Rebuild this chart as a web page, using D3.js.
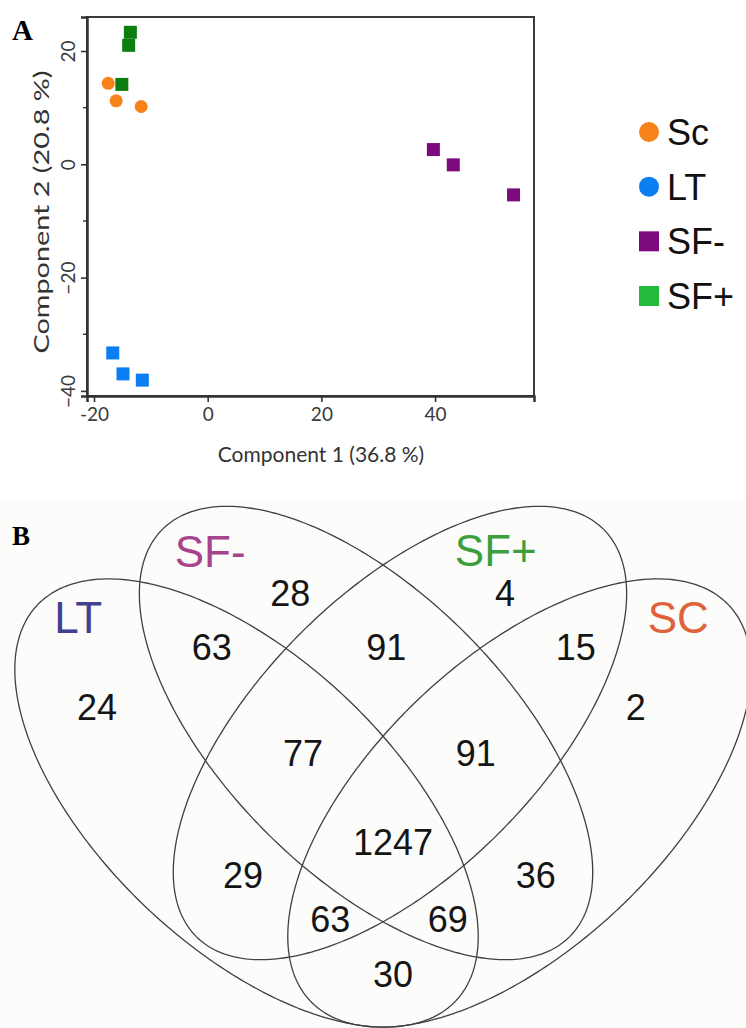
<!DOCTYPE html>
<html><head><meta charset="utf-8">
<script src="https://cdn.jsdelivr.net/npm/d3@7"></script>
<style>body{margin:0;background:#fff;} svg{display:block;}</style>
</head><body>
<svg id="c" width="746" height="1028"></svg>
<script>
// ---------- Panel A data (PCA scores) ----------
const pcaGroups = ["Sc", "LT", "SF-", "SF+"];
const scX  = [-17.5, -16.1, -11.7];
const scY  = [14.3, 11.2, 10.2];
const ltX  = [-16.7, -14.9, -11.5];
const ltY  = [-33.3, -37.0, -38.1];
const sfmX = [39.7, 43.2, 53.8];
const sfmY = [2.6, -0.1, -5.4];
const sfpX = [-13.6, -13.9, -15.1];
const sfpY = [23.3, 21.0, 14.1];
const xTicks = [-20, 0, 20, 40];
const yTicks = [-40, -20, 0, 20];
const yMinorTicks = [-30, -10, 10];
const xTitle = "Component 1 (36.8 %)";
const yTitle = "Component 2 (20.8 %)";

// ---------- Panel B data (Venn counts) ----------
const vennSets = ["LT", "SF-", "SF+", "SC"];
const vennRegions = ["LT", "SF-", "SF+", "SC", "LT&SF-", "SF-&SF+", "SF+&SC",
  "LT&SF-&SF+", "SF-&SF+&SC", "all", "LT&SF+", "SF-&SC", "LT&SF+&SC", "LT&SF-&SC", "LT&SC"];
const vennCounts = [24, 28, 4, 2, 63, 91, 15, 77, 91, 1247, 29, 36, 63, 69, 30];

// ---------- styles / layout ----------
const colors = {"Sc": "#f8821a", "LT": "#0b7ef2", "SF-": "#7c0a7e", "SF+": "#0c7e10"};
const legendColors = {"Sc": "#f8821a", "LT": "#0b7ef2", "SF-": "#7c0a7e", "SF+": "#22bb3a"};
const shapes = {"Sc": "circle", "LT": "square", "SF-": "square", "SF+": "square"};
const legendShapes = {"Sc": "circle", "LT": "circle", "SF-": "square", "SF+": "square"};
const setColors = {"LT": "#40408f", "SF-": "#a8448e", "SF+": "#3d9e3d", "SC": "#e0623a"};
// ellipse geometry in unit coordinates (centre, semi-axes, rotation deg, y up)
const vennGeom = [
  {cx: 0.3294, cy: 0.470, a: 0.360, b: 0.181, rot: 136.6},
  {cx: 0.4788, cy: 0.5575, a: 0.360, b: 0.176, rot: 135},
  {cx: 0.5212, cy: 0.5575, a: 0.360, b: 0.176, rot: 45},
  {cx: 0.6706, cy: 0.470, a: 0.360, b: 0.181, rot: 43.4}
];
const vennSetLabelPos = [[0.119, 0.7025], [0.284, 0.784], [0.641, 0.786], [0.869, 0.7025]];
const vennCountPos = [[0.1425, 0.590], [0.384, 0.7325], [0.6525, 0.7325], [0.816, 0.590],
  [0.286, 0.665], [0.504, 0.665], [0.741, 0.665], [0.400, 0.5325], [0.616, 0.5325],
  [0.5125, 0.421], [0.325, 0.379], [0.691, 0.379], [0.434, 0.325], [0.581, 0.325], [0.5125, 0.256]];

const svg = d3.select("#c");
svg.append("rect").attr("width", 746).attr("height", 1028).attr("fill", "#ffffff");
svg.append("rect").attr("x", 0).attr("y", 500).attr("width", 746).attr("height", 528).attr("fill", "#fcfcfa");

// ================= Panel A =================
const x = d3.scaleLinear().domain([-21.23, 57.4]).range([87, 534]);
const y = d3.scaleLinear().domain([-40.9, 26]).range([396, 17]);
const axisFont = "Lato, 'Open Sans', sans-serif";
const gA = svg.append("g");

gA.append("text").attr("x", 12).attr("y", 40).text("A")
  .attr("font-family", "'Liberation Serif', 'Times New Roman', serif")
  .attr("font-weight", "bold").attr("font-size", 29).attr("fill", "#000");

gA.append("rect").attr("x", x.range()[0]).attr("y", y.range()[1])
  .attr("width", x.range()[1] - x.range()[0]).attr("height", y.range()[0] - y.range()[1])
  .attr("fill", "none").attr("stroke", "#3a3a3a").attr("stroke-width", 2);

const xAxis = d3.axisBottom(x).tickValues(xTicks).tickSize(6).tickPadding(6).tickFormat(d3.format("d"));
const gx = gA.append("g").attr("transform", `translate(0,${y.range()[0]})`).call(xAxis);
gx.select(".domain").attr("stroke", "#333").attr("stroke-width", 2.5);
gx.selectAll(".tick line").attr("stroke", "#333").attr("stroke-width", 1.6);
gx.selectAll(".tick text").attr("font-family", axisFont).attr("font-size", 19).attr("fill", "#3a3a3a")
  .text(d => d < 0 ? "-" + Math.abs(d) : d);

const yAxis = d3.axisLeft(y).tickValues(yTicks).tickSize(6).tickPadding(0).tickFormat(d3.format("d"));
const gy = gA.append("g").attr("transform", `translate(${x.range()[0]},0)`).call(yAxis);
gy.select(".domain").attr("stroke", "#333").attr("stroke-width", 2.5);
gy.selectAll(".tick line").attr("stroke", "#333").attr("stroke-width", 1.6);
gy.selectAll(".tick text").attr("font-family", axisFont).attr("font-size", 19).attr("fill", "#3a3a3a")
  .attr("x", null).attr("dy", null)
  .attr("text-anchor", "middle").attr("dominant-baseline", "central")
  .attr("transform", "translate(-20,0) rotate(-90)");
gy.selectAll(".minor").data(yMinorTicks).enter().append("line").attr("class", "minor")
  .attr("x1", 0).attr("x2", -4).attr("y1", d => y(d)).attr("y2", d => y(d))
  .attr("stroke", "#333").attr("stroke-width", 1.4);

gA.append("text").attr("x", 321).attr("y", 462).attr("text-anchor", "middle")
  .attr("font-family", axisFont).attr("font-size", 21).attr("fill", "#333").text(xTitle);
gA.append("text").attr("transform", "translate(40,212) rotate(-90)")
  .attr("text-anchor", "middle").attr("dominant-baseline", "central")
  .attr("textLength", 283).attr("lengthAdjust", "spacingAndGlyphs")
  .attr("font-family", axisFont).attr("font-size", 21).attr("fill", "#333").text(yTitle);

const pcaData = [
  {g: "Sc", xs: scX, ys: scY},
  {g: "SF+", xs: sfpX, ys: sfpY},
  {g: "SF-", xs: sfmX, ys: sfmY},
  {g: "LT", xs: ltX, ys: ltY}
];
pcaData.forEach(s => {
  const pts = s.xs.map((v, i) => [v, s.ys[i]]);
  if (shapes[s.g] === "circle") {
    gA.selectAll(null).data(pts).enter().append("circle")
      .attr("cx", d => x(d[0])).attr("cy", d => y(d[1])).attr("r", 6.5).attr("fill", colors[s.g]);
  } else {
    gA.selectAll(null).data(pts).enter().append("rect")
      .attr("x", d => x(d[0]) - 6.5).attr("y", d => y(d[1]) - 6.5)
      .attr("width", 13).attr("height", 13).attr("fill", colors[s.g]);
  }
});

const legY = d3.scalePoint().domain(pcaGroups).range([132, 296]);
const leg = gA.append("g");
pcaGroups.forEach(gname => {
  const cy = legY(gname);
  if (legendShapes[gname] === "circle") {
    leg.append("circle").attr("cx", 649).attr("cy", cy).attr("r", 10).attr("fill", legendColors[gname]);
  } else {
    leg.append("rect").attr("x", 639).attr("y", cy - 10).attr("width", 20).attr("height", 20).attr("fill", legendColors[gname]);
  }
  leg.append("text").attr("x", 667).attr("y", cy + 13)
    .attr("font-family", "'Liberation Sans', Arial, sans-serif").attr("font-size", 36)
    .attr("fill", "#111").text(gname);
});

// ================= Panel B =================
const gB = svg.append("g");
gB.append("text").attr("x", 12).attr("y", 545).text("B")
  .attr("font-family", "'Liberation Serif', 'Times New Roman', serif")
  .attr("font-weight", "bold").attr("font-size", 27).attr("fill", "#000");

const vs = 800;
const vx = d3.scaleLinear().domain([0, 1]).range([383 - 0.5 * vs, 383 + 0.5 * vs]);
const vy = d3.scaleLinear().domain([0, 1]).range([803 + 0.47 * vs, 803 - 0.53 * vs]);

const line = d3.line().x(d => vx(d[0])).y(d => vy(d[1])).curve(d3.curveLinearClosed);
const thetas = d3.range(0, 2 * Math.PI, Math.PI / 180);
vennGeom.forEach(e => {
  const phi = e.rot * Math.PI / 180;
  const pts = thetas.map(t => [
    e.cx + e.a * Math.cos(t) * Math.cos(phi) - e.b * Math.sin(t) * Math.sin(phi),
    e.cy + e.a * Math.cos(t) * Math.sin(phi) + e.b * Math.sin(t) * Math.cos(phi)
  ]);
  gB.append("path").attr("d", line(pts)).attr("fill", "none")
    .attr("stroke", "#404040").attr("stroke-width", 1.3);
});

const vennFont = "'Liberation Sans', Arial, sans-serif";
vennSets.forEach((s, i) => {
  gB.append("text").attr("x", vx(vennSetLabelPos[i][0])).attr("y", vy(vennSetLabelPos[i][1]))
    .attr("text-anchor", "middle").attr("dominant-baseline", "central")
    .attr("font-family", vennFont).attr("font-size", 44).attr("fill", setColors[s]).text(s);
});
vennCounts.forEach((c, i) => {
  gB.append("text").attr("x", vx(vennCountPos[i][0])).attr("y", vy(vennCountPos[i][1]))
    .attr("text-anchor", "middle").attr("dominant-baseline", "central")
    .attr("font-family", vennFont).attr("font-size", 36).attr("fill", "#151515").text(c);
});
</script>
</body></html>
